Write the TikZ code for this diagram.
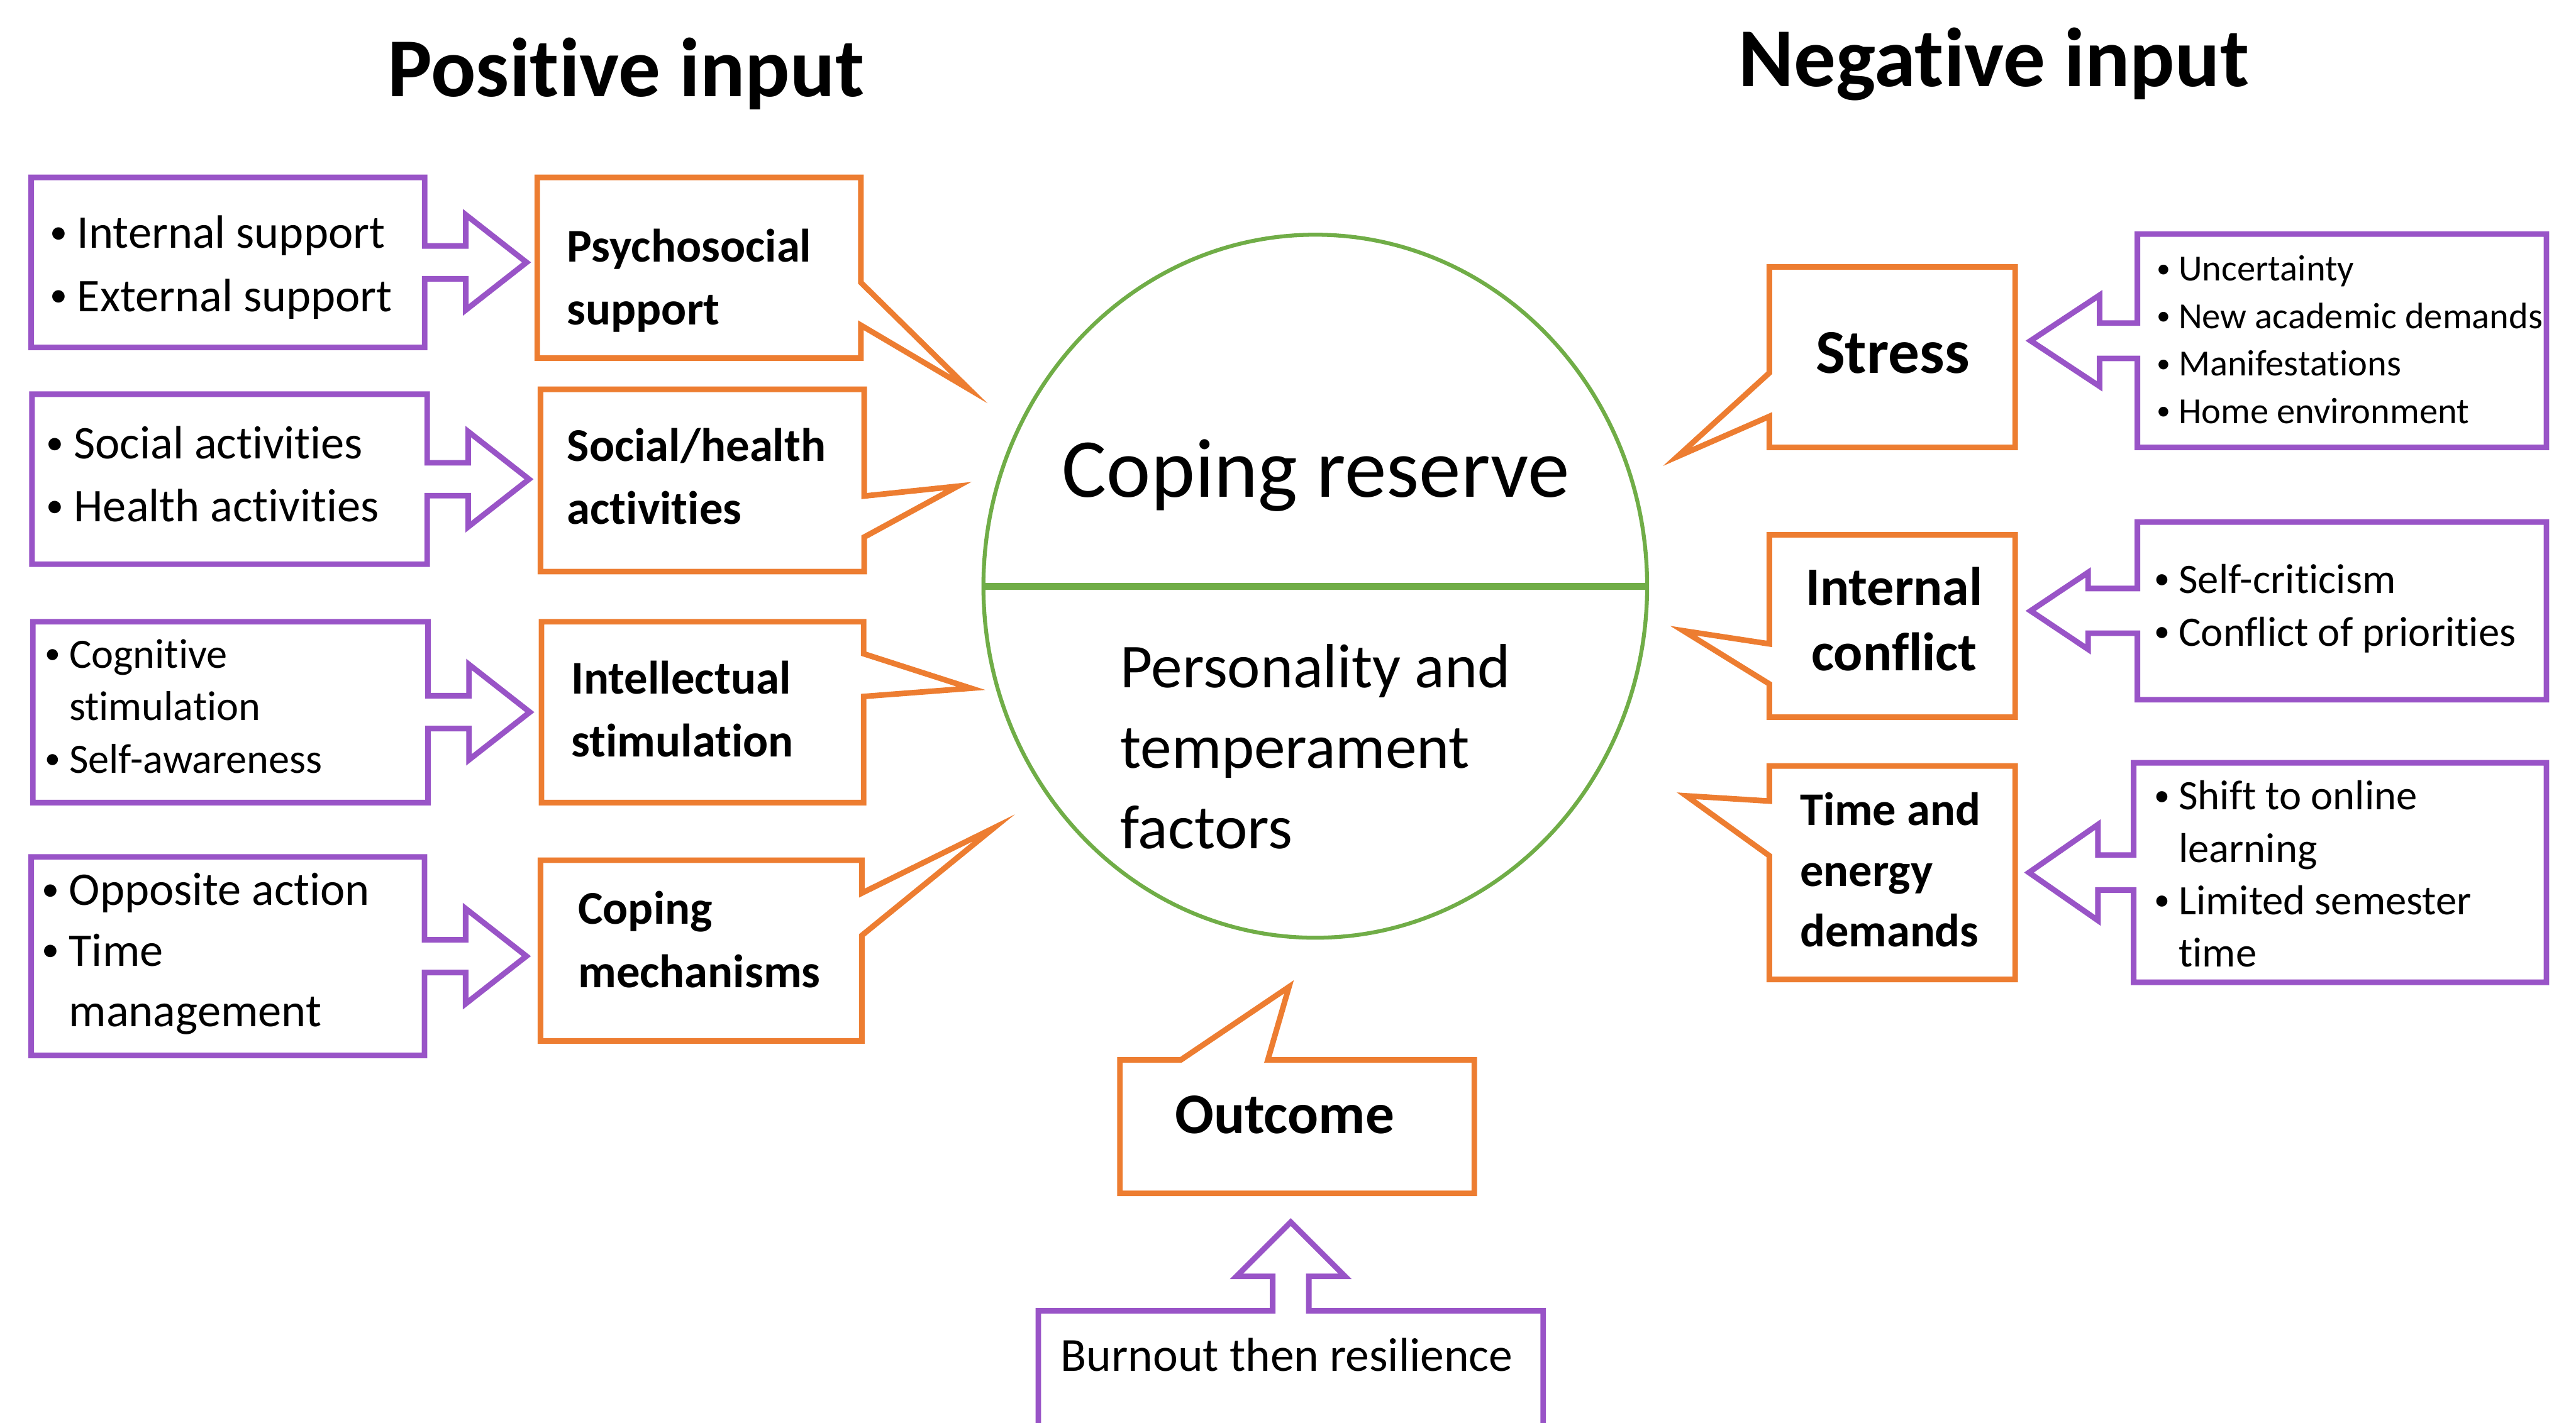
\documentclass[tikz,border=0pt]{standalone}
\usepackage{fontspec}
\setmainfont{Carlito}[Ligatures=NoCommon]
\usetikzlibrary{shapes.geometric, calc}

\definecolor{inpurple}{RGB}{153, 84, 199}
\definecolor{boxorange}{RGB}{237, 125, 49}
\definecolor{ringgreen}{RGB}{112, 173, 71}

% small bullet with a fixed gap before the item text
\newcommand{\itm}{\makebox[0.8em][c]{\raisebox{0.1em}{\scalebox{0.75}{•}}}}
\newcommand{\fsize}[2]{\fontsize{#1}{#2}\selectfont}

\begin{document}
\begin{tikzpicture}[x=1pt, y=1pt,
        frame/.style={inner sep=0pt, outer sep=0pt},
        pline/.style={draw=inpurple, line width=3.4pt},
        oline/.style={draw=boxorange, line width=3.4pt},
        ptext/.style={anchor=west, align=left, inner sep=0pt, font=\fsize{28.5}{38.4}},
        otext/.style={anchor=west, align=left, inner sep=0pt, font=\bfseries\fsize{28.6}{38.4}},
        title/.style={anchor=base, inner sep=0pt, font=\bfseries\fsize{51}{60}}
    ]
    \useasboundingbox (0,0) rectangle (1568,866);

    % Headings
    \node[title] (postitle) at (381,807.1) {Positive input};
    \node[title] (negtitle) at (1213.6,813.4) {Negative input};

    % Coping reserve circle
    \node[ellipse, draw=ringgreen, line width=2.4pt, outer sep=0pt, minimum width=404pt, minimum height=428pt] (ring) at (800.6,509.1) {};
    \draw[ringgreen, line width=4pt] (ring.west) -- (ring.east);
    \node[anchor=base, inner sep=0pt, font=\fsize{51}{60}] (reserve) at (801,563.4) {Coping reserve};
    \node[anchor=west, align=left, inner sep=0pt, font=\fsize{38}{49}] (factors) at (681.7,411.6) {Personality and\\temperament\\factors};

    % Tail tips of the callouts
    \coordinate (t1) at (590,629);
    \coordinate (t2) at (583,570);
    \coordinate (t3) at (591,447);
    \coordinate (t4) at (605,362);
    \coordinate (t5) at (1021,588);
    \coordinate (t6) at (1024.6,482);
    \coordinate (t7) at (1026.4,381.5);
    \coordinate (t8) at (784.6,265.2);

    % Positive input: sources
    \node[frame, minimum width=239.5pt, minimum height=103.5pt] (p1) at (138.75,706.25) {};
    \node[frame, minimum width=240.5pt, minimum height=103.5pt] (p2) at (139.75,574.25) {};
    \node[frame, minimum width=240.5pt, minimum height=110.1pt] (p3) at (140.25,432.45) {};
    \node[frame, minimum width=239.4pt, minimum height=120.8pt] (p4) at (138.7,283.9) {};

    \draw[pline] (p1.north west) -- (p1.north east) -- ([yshift=10pt]p1.east) -- ++(25,0) -- ++(0,19) -- ++(37,-29) -- ++(-37,-29) -- ++(0,19) -- ++(-25,0) -- (p1.south east) -- (p1.south west) -- cycle;
    \draw[pline] (p2.north west) -- (p2.north east) -- ([yshift=10pt]p2.east) -- ++(25,0) -- ++(0,19) -- ++(37,-29) -- ++(-37,-29) -- ++(0,19) -- ++(-25,0) -- (p2.south east) -- (p2.south west) -- cycle;
    \draw[pline] (p3.north west) -- (p3.north east) -- ([yshift=10pt]p3.east) -- ++(25,0) -- ++(0,19) -- ++(37,-29) -- ++(-37,-29) -- ++(0,19) -- ++(-25,0) -- (p3.south east) -- (p3.south west) -- cycle;
    \draw[pline] (p4.north west) -- (p4.north east) -- ([yshift=10pt]p4.east) -- ++(25,0) -- ++(0,19) -- ++(37,-29) -- ++(-37,-29) -- ++(0,19) -- ++(-25,0) -- (p4.south east) -- (p4.south west) -- cycle;

    \node[ptext] (p1text) at ([xshift=5pt,yshift=-3pt]p1.west) {\itm Internal support\\\itm External support};
    \node[ptext] (p2text) at ([xshift=2.5pt,yshift=3pt]p2.west) {\itm Social activities\\\itm Health activities};
    \node[ptext, font=\fsize{25.4}{32}] (p3text) at ([xshift=1.7pt,yshift=3.5pt]p3.west) {\itm Cognitive\\\hphantom{\itm}stimulation\\\itm Self-awareness};
    \node[ptext, font=\fsize{28.5}{37}] (p4text) at ([yshift=1.4pt]p4.west) {\itm Opposite action\\\itm Time\\\hphantom{\itm}management};

    % Positive input: factors
    \node[frame, minimum width=197pt, minimum height=110pt] (o1) at (425.5,703) {};
    \node[frame, minimum width=197pt, minimum height=111pt] (o2) at (427.5,573.5) {};
    \node[frame, minimum width=196.1pt, minimum height=110.1pt] (o3) at (427.65,432.45) {};
    \node[frame, minimum width=195.6pt, minimum height=110pt] (o4) at (426.8,287.3) {};

    \draw[oline] (o1.north west) -- (o1.north east) -- ([yshift=-64pt]o1.north east) -- (t1) -- ([yshift=-90pt]o1.north east) -- (o1.south east) -- (o1.south west) -- cycle;
    \draw[oline] (o2.north west) -- (o2.north east) -- ([yshift=-65pt]o2.north east) -- (t2) -- ([yshift=-90pt]o2.north east) -- (o2.south east) -- (o2.south west) -- cycle;
    \draw[oline] (o3.north west) -- (o3.north east) -- ([yshift=-19.5pt]o3.north east) -- (t3) -- ([yshift=-45.5pt]o3.north east) -- (o3.south east) -- (o3.south west) -- cycle;
    \draw[oline] (o4.north west) -- (o4.north east) -- ([yshift=-20pt]o4.north east) -- (t4) -- ([yshift=-45.8pt]o4.north east) -- (o4.south east) -- (o4.south west) -- cycle;

    \node[otext] (o1text) at ([xshift=18pt,yshift=-7.8pt]o1.west) {Psychosocial\\support};
    \node[otext] (o2text) at ([xshift=16pt,yshift=2.5pt]o2.west) {Social/health\\activities};
    \node[otext] (o3text) at ([xshift=18pt,yshift=1.8pt]o3.west) {Intellectual\\stimulation};
    \node[otext] (o4text) at ([xshift=22.7pt,yshift=6.8pt]o4.west) {Coping\\mechanisms};

    % Negative input: stressors
    \node[frame, minimum width=149.6pt, minimum height=109.9pt] (stress) at (1151.8,648.55) {};
    \node[frame, minimum width=149.6pt, minimum height=111pt] (conflict) at (1151.8,484.9) {};
    \node[frame, minimum width=149.6pt, minimum height=130pt] (demand) at (1151.8,334.7) {};

    \draw[oline] (stress.north west) -- (stress.north east) -- (stress.south east) -- (stress.south west) -- ([yshift=-91pt]stress.north west) -- (t5) -- ([yshift=-64.5pt]stress.north west) -- cycle;
    \draw[oline] (conflict.north west) -- (conflict.north east) -- (conflict.south east) -- (conflict.south west) -- ([yshift=-90.8pt]conflict.north west) -- (t6) -- ([yshift=-66.4pt]conflict.north west) -- cycle;
    \draw[oline] (demand.north west) -- (demand.north east) -- (demand.south east) -- (demand.south west) -- ([yshift=-54.7pt]demand.north west) -- (t7) -- ([yshift=-21.4pt]demand.north west) -- cycle;

    \node[anchor=base, inner sep=0pt, font=\bfseries\fsize{38}{46}] (stresstext) at (1152,638.7) {Stress};
    \node[align=center, inner sep=0pt, font=\bfseries\fsize{33}{40}] (conflicttext) at (1153,489) {Internal\\conflict};
    \node[otext, font=\bfseries\fsize{28.5}{37}] (demandtext) at ([xshift=18.5pt,yshift=1.8pt]demand.west) {Time and\\energy\\demands};

    % Negative input: sources
    \node[frame, minimum width=249pt, minimum height=129.9pt] (r1) at (1425.5,658.55) {};
    \node[frame, minimum width=249pt, minimum height=108.2pt] (r2) at (1425.5,494.1) {};
    \node[frame, minimum width=251.3pt, minimum height=133.6pt] (r3) at (1424.35,334.8) {};

    \draw[pline] (r1.north west) -- (r1.north east) -- (r1.south east) -- (r1.south west) -- ([yshift=-10.75pt]r1.west) -- ++(-23,0) -- ++(0,-17) -- ++(-42,27.75) -- ++(42,27.75) -- ++(0,-17) -- ++(23,0) -- cycle;
    \draw[pline] (r2.north west) -- (r2.north east) -- (r2.south east) -- (r2.south west) -- ([yshift=-13.6pt]r2.west) -- ++(-30,0) -- ++(0,-9.8) -- ++(-35,23.4) -- ++(35,23.4) -- ++(0,-9.8) -- ++(30,0) -- cycle;
    \draw[pline] (r3.north west) -- (r3.north east) -- (r3.south east) -- (r3.south west) -- ([yshift=-10.65pt]r3.west) -- ++(-21.7,0) -- ++(0,-18.55) -- ++(-42,29.2) -- ++(42,29.2) -- ++(0,-18.55) -- ++(21.7,0) -- cycle;

    \node[ptext, font=\fsize{22.4}{28.9}] (r1text) at ([xshift=7pt,yshift=0.6pt]r1.west) {\itm Uncertainty\\\itm New academic demands\\\itm Manifestations\\\itm Home environment};
    \node[ptext, font=\fsize{25.5}{32.2}] (r2text) at ([xshift=4.6pt,yshift=1.4pt]r2.west) {\itm Self-criticism\\\itm Conflict of priorities};
    \node[ptext, font=\fsize{25.5}{31.8}] (r3text) at ([xshift=6.9pt,yshift=-0.8pt]r3.west) {\itm Shift to online\\\hphantom{\itm}learning\\\itm Limited semester\\\hphantom{\itm}time};

    % Outcome
    \node[frame, minimum width=215.7pt, minimum height=81.2pt] (outcome) at (789.55,180.1) {};
    \draw[oline] (outcome.south west) -- (outcome.north west) -- ([xshift=37pt]outcome.north west) -- (t8) -- ([xshift=90pt]outcome.north west) -- (outcome.north east) -- (outcome.south east) -- cycle;
    \node[anchor=base, inner sep=0pt, font=\bfseries\fsize{35}{42}] (outcometext) at (782,176) {Outcome};

    \node[frame, minimum width=307.3pt, minimum height=100pt] (burnout) at (785.65,18) {};
    \draw[pline] (burnout.south west) -- (burnout.north west) -- ([xshift=-11pt]burnout.north) -- ++(0,21) -- ++(-22,0) -- ++(33,33) -- ++(33,-33) -- ++(-22,0) -- ++(0,-21) -- (burnout.north east) -- (burnout.south east) -- cycle;
    \node[anchor=base, inner sep=0pt, font=\fsize{28.9}{35}] (burnouttext) at (783.3,31.4) {Burnout then resilience};
\end{tikzpicture}
\end{document}
